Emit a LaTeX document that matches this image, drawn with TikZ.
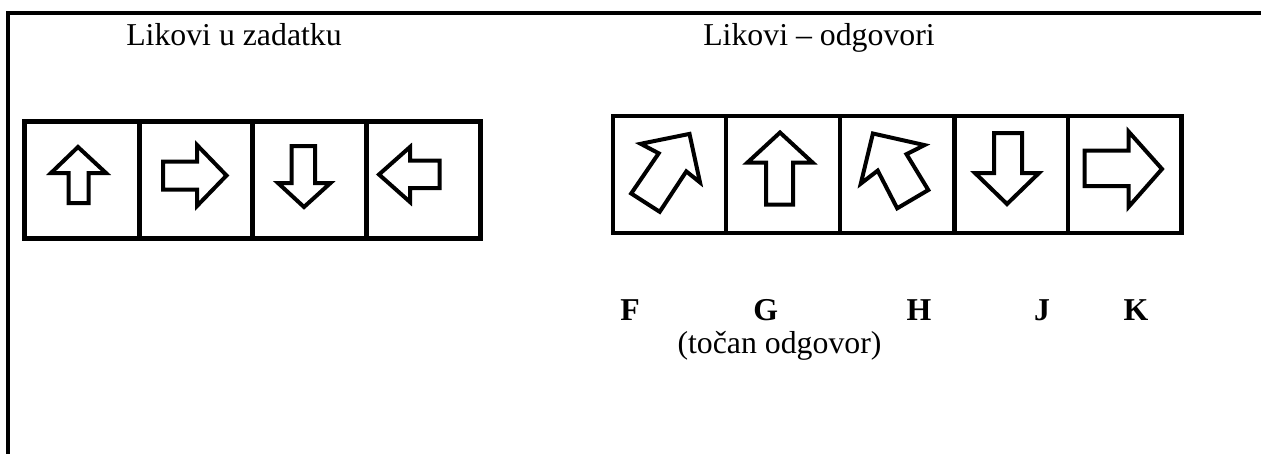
\documentclass[tikz,border=0pt]{standalone}
\usepackage{fontspec}
\setmainfont{Liberation Serif}
\begin{document}
\begin{tikzpicture}[x=1pt,y=-1pt,
  frameline/.style={line width=4pt,line join=miter},
  boxline/.style={line width=4.8pt,line join=miter},
  arrowshape/.style={line width=4pt,line join=miter,miter limit=10},
  label/.style={inner sep=0pt,anchor=base,font=\fontsize{31.8}{38}\selectfont},
  answer/.style={label,font=\fontsize{31.8}{38}\selectfont\bfseries}]
\useasboundingbox (0,0) rectangle (1261,453);

% page frame (top and left edges)
\draw[frameline] (8,454) -- (8,13) -- (1263,13);

% headings
\node[label] (taskhead) at (234,45) {Likovi u zadatku};
\node[label] (answerhead) at (819,45) {Likovi – odgovori};

% task figures: four cells
\draw[boxline] (24.8,121.7) rectangle (480.8,238.3);
\foreach \xd in {139.2,252.5,366.8}
  \draw[boxline] (\xd,121.7) -- (\xd,238.3);

% up
\draw[arrowshape] (78,147) -- (106,173) -- (88.5,173) -- (88.5,203) -- (68.5,203) -- (68.5,173) -- (51,173) -- cycle;
% right
\draw[arrowshape] (163,161.5) -- (197,161.5) -- (197,145) -- (226.5,175.5) -- (197,206) -- (197,189.5) -- (163,189.5) -- cycle;
% down
\draw[arrowshape] (291.5,146) -- (315,146) -- (315,183) -- (330.5,183) -- (304,207) -- (278,183) -- (291.5,183) -- cycle;
% left
\draw[arrowshape] (379,174.5) -- (410,147) -- (410,160.5) -- (439.5,160.5) -- (439.5,188) -- (410,188) -- (410,202) -- cycle;

% answer figures: five cells
\draw[boxline] (613,116) rectangle (1181.5,233);
\foreach \xd in {726,840,954.5,1068}
  \draw[boxline] (\xd,116) -- (\xd,233);

% F: up-right
\draw[arrowshape] (689.5,133.9) -- (700,182.4) -- (686.3,171.4) -- (659.7,211.8) -- (631.2,193.5) -- (658.7,153.3) -- (640.7,143.8) -- cycle;
% G: up
\draw[arrowshape] (780,132.5) -- (812.5,162.5) -- (793,162.5) -- (793,204.5) -- (766,204.5) -- (766,162.5) -- (747.5,162.5) -- cycle;
% H: up-left
\draw[arrowshape] (872.9,133.5) -- (924.5,145.1) -- (906.5,154.2) -- (928.3,190) -- (897.2,208.3) -- (877.7,170.6) -- (860.8,183.6) -- cycle;
% J: down
\draw[arrowshape] (994,133) -- (1022,133) -- (1022,173) -- (1039,173) -- (1007,204) -- (975,173) -- (994,173) -- cycle;
% K: right
\draw[arrowshape] (1084.5,150.5) -- (1128.5,150.5) -- (1128.5,131.5) -- (1162,169) -- (1128.5,207) -- (1128.5,186) -- (1084.5,186) -- cycle;

% answer letters
\node[answer] (ansF) at (630,320) {F};
\node[answer] (ansG) at (765.7,320) {G};
\node[answer] (ansH) at (919,320) {H};
\node[answer] (ansJ) at (1042,320) {J};
\node[answer] (ansK) at (1136,320) {K};
\node[label] (correct) at (779.5,353) {(točan odgovor)};
\end{tikzpicture}
\end{document}
